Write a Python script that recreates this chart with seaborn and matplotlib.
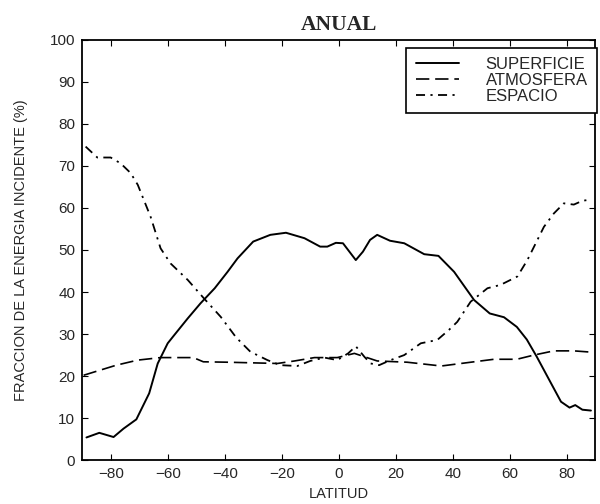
import numpy as np
import pandas as pd
import matplotlib
matplotlib.use("Agg")
import matplotlib.pyplot as plt
import seaborn as sns

# Datos (latitud, % energia incidente)
lat_sup = [-88.5, -84, -79, -75.5, -71, -66.5, -63.5, -60, -58, -53, -48.5, -43.5, -39, -35.5,
           -30, -24, -18.5, -12, -6.5, -4, -1, 1.5, 6, 8.5, 11, 13.5, 18, 23, 30, 35, 40.5,
           47.5, 53, 58, 62.5, 66, 69.5, 74.5, 78, 81, 83, 85.5, 88.5]
sup = [5.4, 6.5, 5.5, 7.5, 9.7, 15.9, 23.0, 27.8, 29.5, 33.7, 37.3, 40.9, 44.8, 48.0,
       52.0, 53.6, 54.1, 52.8, 50.8, 50.8, 51.7, 51.6, 47.6, 49.6, 52.4, 53.6, 52.2, 51.6, 49.0,
       48.6, 44.8, 38.1, 34.9, 34.0, 31.7, 28.7, 24.6, 18.3, 13.9, 12.5, 13.1, 12.0, 11.8]

lat_atm = [-89.5, -78, -70.5, -62.5, -51, -47.5, -39, -21.5, -15.5, -8.5, -0.5, 5.5, 13.5,
           24, 36, 47.5, 54.5, 62.5, 68.5, 75.5, 82.5, 88.5]
atm = [20.2, 22.6, 23.8, 24.4, 24.4, 23.4, 23.3, 23.0, 23.6, 24.4, 24.4, 25.4, 23.6,
       23.3, 22.4, 23.4, 24.0, 24.0, 25.0, 26.0, 26.0, 25.7]

lat_esp = [-88.8, -84.7, -80, -76.5, -73, -70.5, -66, -62.5, -59, -53, -47.3, -41.4, -36,
           -31, -25, -20.5, -14.5, -10, -5, -0.5, 3.3, 6, 9, 11.2, 14.2, 18.2, 23, 28.8, 34.6,
           38.7, 41.6, 46.3, 52.2, 56.8, 62.7, 66.2, 72, 75.5, 79, 82.5, 85.5, 88.5]
esp = [74.6, 72.0, 72.0, 70.6, 68.3, 65.5, 57.9, 50.4, 46.8, 42.9, 38.5, 34.1, 29.2,
       25.8, 23.8, 22.6, 22.4, 23.6, 24.4, 23.8, 25.4, 27.1, 24.6, 23.0, 22.6, 23.8, 25.0, 27.8,
       28.6, 31.0, 32.9, 37.7, 40.9, 41.7, 43.7, 47.6, 55.5, 58.7, 61.1, 60.8, 61.7, 62.0]

sns.set_style("ticks")
plt.rcParams['font.family'] = ['Liberation Sans', 'DejaVu Sans']

fig = plt.figure(figsize=(6.0, 5.04), dpi=100)
ax = fig.add_axes([0.137, 0.087, 0.855, 0.834])

sns.lineplot(x=lat_sup, y=sup, ax=ax, color='black', lw=1.4, label='SUPERFICIE')
sns.lineplot(x=lat_atm, y=atm, ax=ax, color='black', lw=1.2, label='ATMOSFERA',
             linestyle=(0, (8, 3.5)))
sns.lineplot(x=lat_esp, y=esp, ax=ax, color='black', lw=1.3, label='ESPACIO',
             linestyle=(0, (5, 3, 1.2, 3)))

ax.set_xlim(-90, 90)
ax.set_ylim(0, 100)
ax.set_xticks(np.arange(-80, 81, 20))
ax.set_yticks(np.arange(0, 101, 10))
ax.tick_params(direction='in', top=True, right=True, labelsize=11, length=4, color='black',
               pad=5)
for s in ax.spines.values():
    s.set_color('black')
    s.set_linewidth(1.3)

ax.set_xlabel('LATITUD', fontsize=10.5, labelpad=4)
ax.set_ylabel('FRACCION DE LA ENERGIA INCIDENTE (%)', fontsize=10.5, labelpad=16)
ax.set_title('ANUAL', fontsize=15.5, fontweight='bold', family='Liberation Serif', pad=7)

leg = ax.legend(loc='upper left', bbox_to_anchor=(0.632, 0.981), frameon=True, fancybox=False,
                framealpha=1, edgecolor='black', fontsize=12, handlelength=2.6,
                handletextpad=1.6, borderpad=0.55, labelspacing=0.05, borderaxespad=0)
leg.get_frame().set_linewidth(1.2)

fig.savefig('out.png', dpi=100)
